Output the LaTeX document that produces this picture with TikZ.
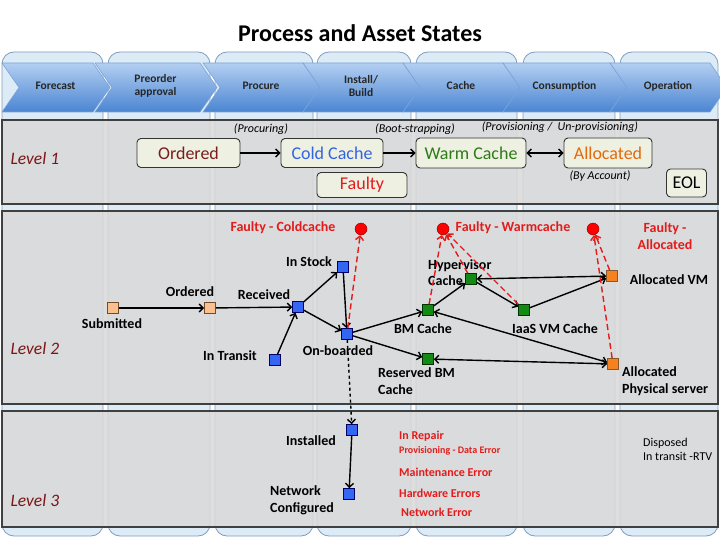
\documentclass[tikz,border=0pt]{standalone}
\usepackage{fontspec}
\setmainfont{Carlito}
\usetikzlibrary{arrows.meta,positioning}

\definecolor{colfill}{HTML}{DCEBF5}
\definecolor{coldraw}{HTML}{7F9DBF}
\definecolor{chevtop}{HTML}{B3CFF1}
\definecolor{chevbot}{HTML}{4A85D2}
\definecolor{chevdraw}{HTML}{7AA3DA}
\definecolor{bandfill}{HTML}{D9D9D9}
\definecolor{bandline}{HTML}{404040}
\definecolor{lvlred}{HTML}{7A1616}
\definecolor{boxfill}{HTML}{EEF1E2}
\definecolor{ordtext}{HTML}{7A1C1C}
\definecolor{coldtext}{HTML}{3463E0}
\definecolor{warmtext}{HTML}{2E7A18}
\definecolor{alloctext}{HTML}{E26A0A}
\definecolor{faultred}{HTML}{E41B1B}
\definecolor{sqtan}{HTML}{FAC090}
\definecolor{sqblue}{HTML}{3366F2}
\definecolor{sqgreen}{HTML}{138A13}
\definecolor{sqorange}{HTML}{F5821F}

\begin{document}
\begin{tikzpicture}[x=1pt,y=-1pt,
  >={Straight Barb[length=4pt,width=8pt]},
  col/.style={draw=coldraw,fill=colfill,rounded corners=12pt,line width=0.8pt},
  band/.style={draw=bandline,fill=bandfill,fill opacity=0.88,line width=1.2pt},
  chevlbl/.style={font=\fontsize{11.5}{13.5}\selectfont\bfseries,align=center,text=black!85},
  lvl/.style={font=\fontsize{17.5}{20}\selectfont\itshape,text=lvlred,anchor=west},
  statebox/.style={draw=black!80,fill=boxfill,rounded corners=4pt,line width=0.9pt,
    inner sep=0pt,font=\fontsize{18}{21}\selectfont},
  note/.style={font=\fontsize{12}{14}\selectfont\itshape},
  sq/.style={draw,minimum size=11pt,inner sep=0pt,line width=0.6pt},
  ordsq/.style={sq,fill=sqtan,draw=brown!60!black},
  blusq/.style={sq,fill=sqblue,draw=blue!40!black},
  grnsq/.style={sq,fill=sqgreen,draw=green!20!black},
  orgsq/.style={sq,fill=sqorange,draw=brown!70!black},
  faultdot/.style={circle,fill=red,draw=red!50!black,minimum size=12pt,inner sep=0pt},
  st/.style={font=\fontsize{14}{16.5}\selectfont\bfseries,inner sep=1pt},
  ftxt/.style={st,text=faultred},
  err/.style={font=\fontsize{12}{14}\selectfont\bfseries,text=faultred,anchor=west,inner sep=0pt},
  flow/.style={->,line width=1.4pt},
  both/.style={<->,line width=1.4pt},
  fail/.style={->,dash pattern=on 6pt off 3.5pt,draw=faultred,line width=1.4pt}]
\useasboundingbox (0,0) rectangle (720,540);

% Title
\node[font=\fontsize{24}{28}\selectfont\bfseries] (title) at (360,33) {Process and Asset States};

% Process columns
\foreach \l/\r in {2/103,108/210,215/313,317/411,416/517,523/615,620/718}
  \draw[col] (\l,52) rectangle (\r,536);

% Process chevrons
\foreach \l/\r/\txt [count=\i] in {2/93/Forecast,95/200/{Preorder\\approval},203/303/Procure,
    303/403/{Install/\\Build},403/503/Cache,503/610/Consumption,610/710/Operation}{
  \shadedraw[top color=chevtop,bottom color=chevbot,draw=chevdraw,line width=0.6pt]
    (\l,63) -- (\r,63) -- (\r+17,87.5) -- (\r,112) -- (\l,112) -- (\l+17,87.5) -- cycle;
  \node[chevlbl] (chev\i) at ({(\l+\r)/2+8},86) {\txt};
}

% Level bands
\draw[band] (2,120) rectangle (718,204);
\draw[band] (2,211) rectangle (718,404);
\draw[band] (2,411) rectangle (718,527);
\node[lvl] (lvl1) at (7,158) {Level 1};
\node[lvl] (lvl2) at (7,348) {Level 2};
\node[lvl] (lvl3) at (7,500) {Level 3};

% Level 1
\node[statebox,minimum width=103pt,minimum height=29pt,text=ordtext] (ordbox) at (188.5,153) {Ordered};
\node[statebox,minimum width=102pt,minimum height=29pt,text=coldtext] (coldbox) at (332,153) {Cold Cache};
\node[statebox,minimum width=110pt,minimum height=30pt,text=warmtext] (warmbox) at (471,153) {Warm Cache};
\node[statebox,minimum width=88pt,minimum height=30pt,text=alloctext] (allocbox) at (608,153) {Allocated};
\node[statebox,minimum width=90pt,minimum height=25pt,text=faultred] (faultbox) at (362,185) {Faulty};
\node[statebox,minimum width=40pt,minimum height=28pt] (eolbox) at (686.5,183) {EOL};
\draw[flow] (ordbox) -- (coldbox);
\draw[flow] (coldbox) -- (warmbox);
\draw[both] (warmbox) -- (allocbox);
\node[note] (procuring) at (261,129) {(Procuring)};
\node[note] (booting) at (415,129) {(Boot-strapping)};
\node[note] (provis) at (560,127) {(Provisioning /\ \ Un-provisioning)};
\node[note] (byacct) at (600,176) {(By Account)};

% Level 2 states
\node[ordsq] (submitted) at (113,308) {};
\node[ordsq] (ordered) at (210,308) {};
\node[blusq] (received) at (298,307) {};
\node[blusq] (instock) at (343,267) {};
\node[blusq] (intransit) at (275,360) {};
\node[blusq] (onboarded) at (347,334) {};
\node[grnsq] (bmcache) at (428,310) {};
\node[grnsq] (hypcache) at (471,279) {};
\node[grnsq] (iaascache) at (524,310) {};
\node[grnsq] (resbm) at (428,359) {};
\node[orgsq] (allocvm) at (612,276) {};
\node[orgsq] (allocphys) at (613,364) {};
\node[faultdot] (fcold) at (361,229) {};
\node[faultdot] (fwarm) at (443,229) {};
\node[faultdot] (falloc) at (593,229) {};

\node[st] (submitted-l) at (112,324) {Submitted};
\node[st] (ordered-l) at (190,292) {Ordered};
\node[st] (received-l) at (264,295) {Received};
\node[st] (instock-l) at (309,262) {In Stock};
\node[st] (intransit-l) at (230,356) {In Transit};
\node[st] (onboarded-l) at (338,351) {On-boarded};
\node[st,align=left,anchor=west] (hypcache-l) at (427,272.5) {Hypervisor\\Cache};
\node[st] (bmcache-l) at (423,329) {BM Cache};
\node[st] (iaascache-l) at (555,329) {IaaS VM Cache};
\node[st,align=left,anchor=west] (resbm-l) at (377,381) {Reserved BM\\Cache};
\node[st] (allocvm-l) at (669,280) {Allocated VM};
\node[st,align=left,anchor=west] (allocphys-l) at (621,381) {Allocated\\Physical server};
\node[ftxt] (fcold-l) at (283,228) {Faulty - Coldcache};
\node[ftxt] (fwarm-l) at (513,228) {Faulty - Warmcache};
\node[ftxt,align=center] (falloc-l) at (665,236) {Faulty -\\Allocated};

\draw[flow] (submitted) -- (ordered);
\draw[flow] (ordered) -- (received);
\draw[flow] (received) -- (instock);
\draw[flow] (intransit) -- (received);
\draw[flow] (received) -- (onboarded);
\draw[flow] (instock) -- (onboarded);
\draw[flow] (onboarded) -- (bmcache);
\draw[flow] (onboarded) -- (resbm);
\draw[flow] (bmcache) -- (hypcache);
\draw[flow] (hypcache) -- (iaascache);
\draw[flow] (iaascache) -- (allocvm);
\draw[both] (hypcache) -- (allocvm);
\draw[both] (bmcache) -- (allocphys);
\draw[both] (resbm) -- (allocphys);

% Failure paths
\draw[fail] (onboarded) -- (fcold);
\draw[fail] (bmcache) -- (fwarm);
\draw[fail] (hypcache) -- (fwarm);
\draw[fail] (iaascache) -- (fwarm);
\draw[fail] (allocvm) -- (falloc);
\draw[fail] (allocphys) -- (falloc);

% Level 3
\node[blusq] (installed) at (352,430) {};
\node[blusq] (netconf) at (349,494) {};
\node[st] (installed-l) at (311,441) {Installed};
\node[st,align=left,anchor=west] (netconf-l) at (269,500.5) {Network\\Configured};
\draw[flow,dashed] (onboarded) -- (installed);
\draw[flow] (installed) -- (netconf);

\node[err] (repair) at (399,436) {In Repair};
\node[err,font=\fontsize{10}{12}\selectfont\bfseries] (provdata) at (399,451) {Provisioning - Data Error};
\node[err] (mainterr) at (399,472) {Maintenance Error};
\node[err] (hwerr) at (399,493) {Hardware Errors};
\node[err] (neterr) at (401,512) {Network Error};
\node[anchor=west,align=left,inner sep=0pt,font=\fontsize{12}{14}\selectfont] (disposed) at (643,449) {Disposed\\In transit -RTV};
\end{tikzpicture}
\end{document}
